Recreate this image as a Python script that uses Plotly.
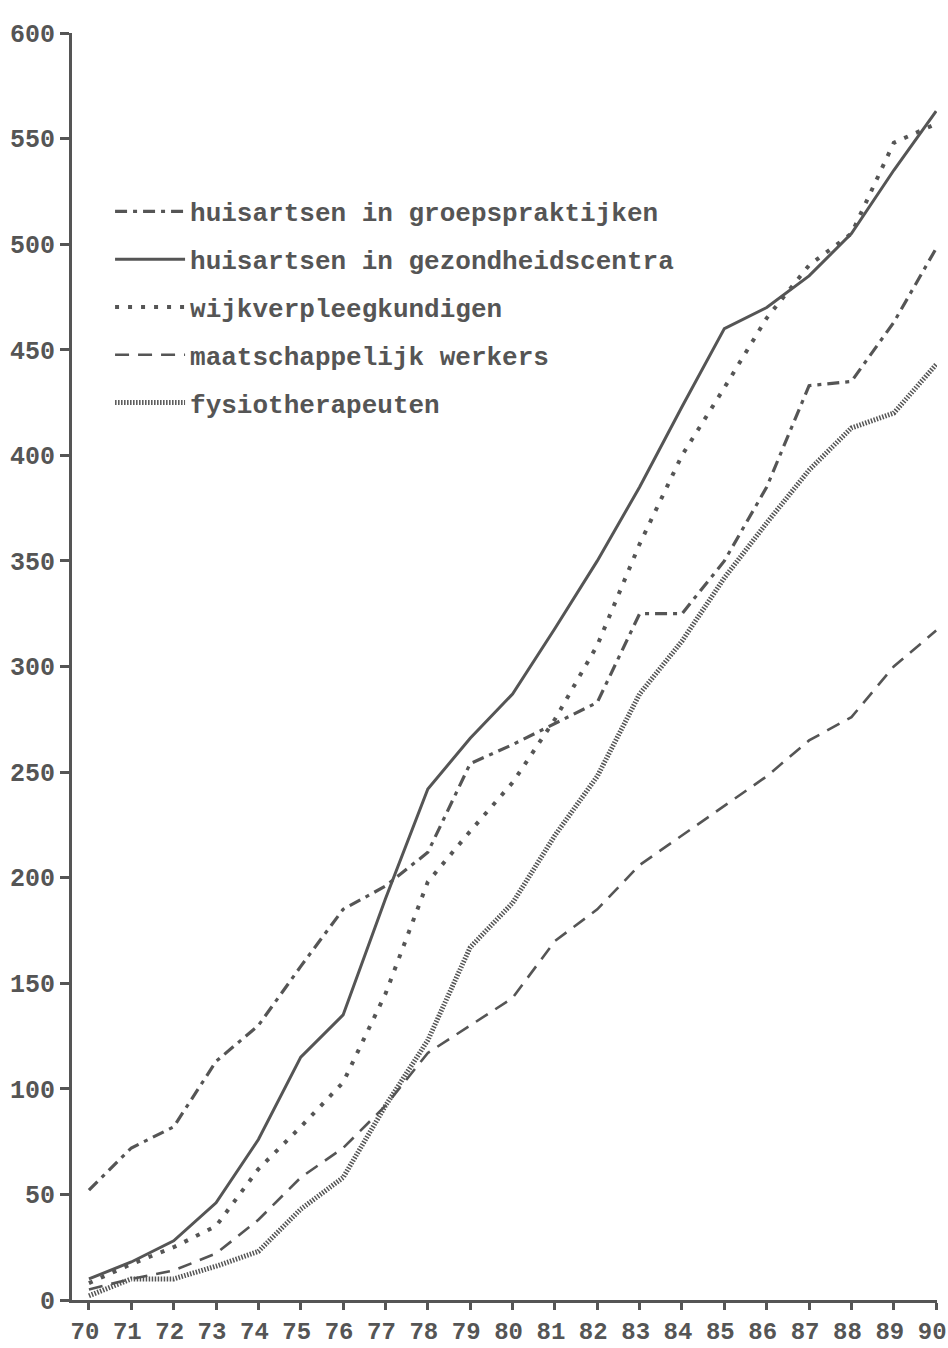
import plotly.graph_objects as go

years = list(range(70, 91))
year_labels = [str(y) for y in years]

groepspraktijken = [52, 72, 82, 113, 130, 158, 185, 196, 212, 254, 263, 273, 283, 325, 325, 350, 385, 433, 435, 463, 498]
gezondheidscentra = [10, 18, 28, 46, 76, 115, 135, 190, 242, 266, 287, 318, 350, 385, 423, 460, 470, 485, 505, 535, 563]
wijkverpleegkundigen = [8, 17, 25, 35, 62, 82, 103, 145, 198, 222, 245, 275, 310, 358, 400, 432, 465, 490, 505, 548, 557]
maatschappelijk = [5, 10, 14, 22, 38, 58, 72, 92, 117, 130, 143, 170, 185, 206, 220, 234, 248, 265, 276, 300, 317]
fysiotherapeuten = [2, 10, 10, 16, 23, 43, 58, 92, 123, 167, 188, 220, 248, 287, 312, 342, 368, 393, 413, 420, 443]

y_ticks = [0, 50, 100, 150, 200, 250, 300, 350, 400, 450, 500, 550, 600]

names = [
    "huisartsen in groepspraktijken",
    "huisartsen in gezondheidscentra",
    "wijkverpleegkundigen",
    "maatschappelijk werkers",
    "fysiotherapeuten",
]

ink = "#555555"
font_family = "Liberation Mono, Courier New, monospace"

series = [
    (groepspraktijken, "12px,6px,4px,6px", 3.2),
    (gezondheidscentra, "solid", 3.0),
    (wijkverpleegkundigen, "4px,9px", 4.0),
    (maatschappelijk, "14px,9px", 2.6),
    (fysiotherapeuten, "1.5px,1.5px", 5.0),
]

fig = go.Figure()
for i, (vals, dash, w) in enumerate(series):
    fig.add_trace(go.Scatter(
        x=years, y=vals, mode="lines", name=names[i],
        legendgroup=f"g{i}",
        line=dict(color=ink, width=w, dash=dash),
    ))

fig.update_layout(
    width=948, height=1348,
    margin=dict(l=72, r=11, t=33, b=48, autoexpand=False),
    paper_bgcolor="white", plot_bgcolor="white",
    font=dict(family=font_family, color=ink, size=22),
    showlegend=True,
    legend=dict(
        x=0.044, y=0.8777, xanchor="left", yanchor="top",
        bgcolor="rgba(0,0,0,0)",
        font=dict(family=font_family, size=26, color=ink, weight="bold"),
        tracegroupgap=11,
        itemwidth=70,
    ),
    xaxis=dict(
        range=[69.6, 90.02], tickmode="array", tickvals=years, ticktext=year_labels,
        showgrid=False, zeroline=False, showline=True, linecolor=ink, linewidth=3,
        ticks="outside", ticklen=7, tickwidth=3, tickcolor=ink, automargin=False,
        ticklabeloverflow="allow", ticklabelshift=-4,
        tickfont=dict(family=font_family, size=24, color=ink, weight="bold"),
    ),
    yaxis=dict(
        range=[0, 600], tickmode="array", tickvals=y_ticks,
        showgrid=False, zeroline=False, showline=True, linecolor=ink, linewidth=3,
        ticks="outside", ticklen=9, tickwidth=3, tickcolor=ink, automargin=False,
        tickfont=dict(family=font_family, size=25, color=ink, weight="bold"),
    ),
)

# Remove the browser's default 8px body margin so the figure fills the window exactly.
fig.write_html(
    "out.html",
    config={"displayModeBar": False},
    post_script="document.body.style.margin='0';document.body.style.overflow='hidden';",
)
